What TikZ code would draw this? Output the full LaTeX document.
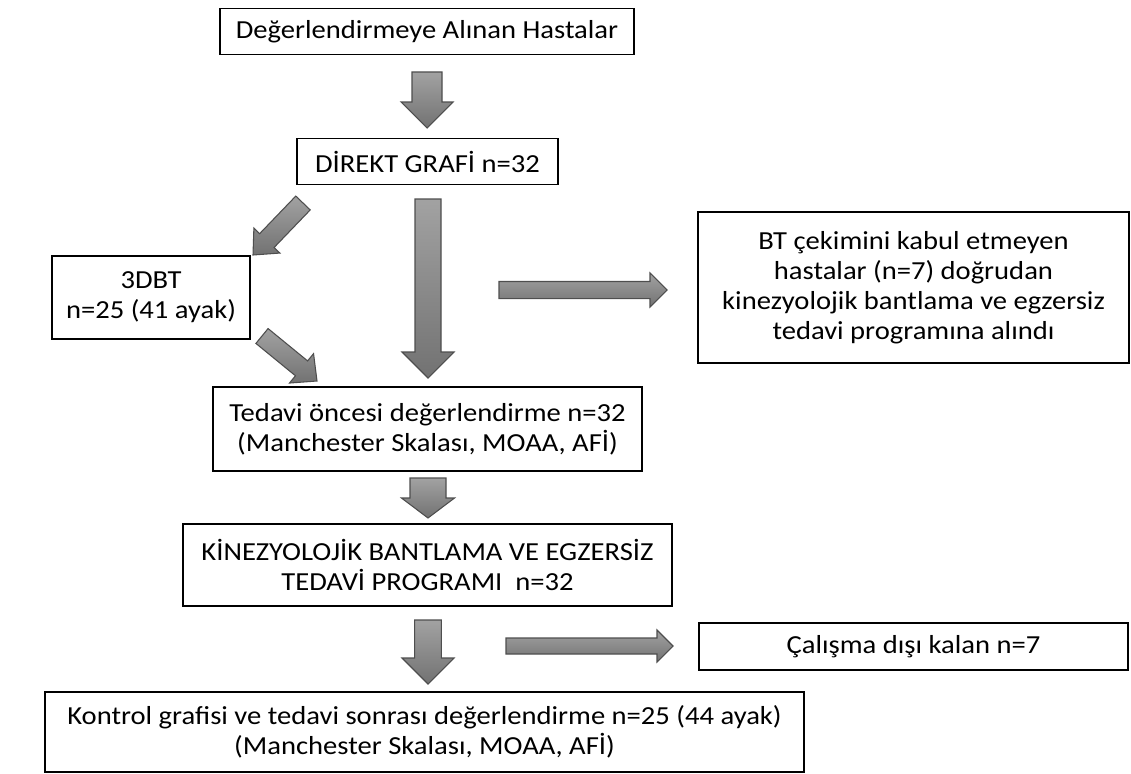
\documentclass[tikz,border=0pt]{standalone}
\usepackage{fontspec}
\setmainfont{Carlito}[FakeStretch=1.1]
\usetikzlibrary{calc}

\definecolor{oktop}{HTML}{A2A2A2}
\definecolor{okbot}{HTML}{727272}
\definecolor{okline}{HTML}{4E4E4E}

% block arrow: tail, tip, shaft half width, head half width, head length
\newcommand{\kalinok}[5]{%
  \path ($(#2)!#5!(#1)$) coordinate (boyun);
  \draw[okstil] ($(#1)!#3!90:(#2)$) -- ($(boyun)!#3!90:(#2)$)
    -- ($(boyun)!#4!90:(#2)$) -- (#2) -- ($(boyun)!#4!-90:(#2)$)
    -- ($(boyun)!#3!-90:(#2)$) -- ($(#1)!#3!-90:(#2)$) -- cycle;}

\tikzset{
  kutu/.style={draw, line width=0.9pt, align=center, inner sep=0pt,
    font=\fontsize{19.5}{22.5}\selectfont},
  okstil/.style={draw=okline, line width=0.8pt, line join=miter,
    top color=oktop, bottom color=okbot}
}

\begin{document}
\begin{tikzpicture}[x=0.75pt, y=-0.75pt]
      \useasboundingbox (0,0) rectangle (1131,774);
      % Boxes:
      \node[kutu, minimum width=310.5pt, minimum height=35pt] (hasta) at (427,31.5) {Değerlendirmeye Alınan Hastalar};
      \node[kutu, minimum width=195.75pt, minimum height=35pt] (grafi) at (427.5,161.5) {DİREKT GRAFİ n=32};
      \node[kutu, minimum width=148.5pt, minimum height=62.25pt] (dbt) at (151,297.5) {3DBT\\n=25 (41 ayak)};
      \node[kutu, minimum width=323.25pt, minimum height=113.25pt] (btred) at (913.5,287.5) {BT çekimini kabul etmeyen\\hastalar (n=7) doğrudan\\kinezyolojik bantlama ve egzersiz\\tedavi programına alındı};
      \node[kutu, minimum width=321.75pt, minimum height=63pt] (oncesi) at (427.5,429) {Tedavi öncesi değerlendirme n=32\\(Manchester Skalası, MOAA, AFİ)};
      \node[kutu, minimum width=366.75pt, minimum height=61.5pt] (kinez) at (427.5,565) {KİNEZYOLOJİK BANTLAMA VE EGZERSİZ\\TEDAVİ PROGRAMI\ \ n=32};
      \node[kutu, minimum width=321.75pt, minimum height=35.25pt] (disi) at (913.5,646.5) {Çalışma dışı kalan n=7};
      \node[kutu, minimum width=569.25pt, minimum height=60pt] (kontrol) at (424.5,732) {Kontrol grafisi ve tedavi sonrası değerlendirme n=25 (44 ayak)\\(Manchester Skalası, MOAA, AFİ)};

      % Arrow ends:
      \coordinate (a1) at (427,72);   \coordinate (b1) at (427,128);
      \coordinate (a2) at (303,203);  \coordinate (b2) at (253,255);
      \coordinate (a3) at (428,199);  \coordinate (b3) at (428,378);
      \coordinate (a4) at (262,336);  \coordinate (b4) at (317,381);
      \coordinate (a5) at (499,290);  \coordinate (b5) at (667,290);
      \coordinate (a6) at (428,478);  \coordinate (b6) at (428,518);
      \coordinate (a7) at (428,620);  \coordinate (b7) at (428,684);
      \coordinate (a8) at (506,646);  \coordinate (b8) at (673,646);

      % Arrows:
      \kalinok{a1}{b1}{11.25pt}{19.5pt}{19.5pt}
      \kalinok{a2}{b2}{7.5pt}{13.5pt}{15pt}
      \kalinok{a3}{b3}{9.75pt}{19.5pt}{19.5pt}
      \kalinok{a4}{b4}{7.2pt}{14.25pt}{15pt}
      \kalinok{a5}{b5}{6.4pt}{12.75pt}{12.75pt}
      \kalinok{a6}{b6}{13.5pt}{19.9pt}{15pt}
      \kalinok{a7}{b7}{10pt}{19.5pt}{19.5pt}
      \kalinok{a8}{b8}{6pt}{12pt}{12pt}
\end{tikzpicture}
\end{document}
